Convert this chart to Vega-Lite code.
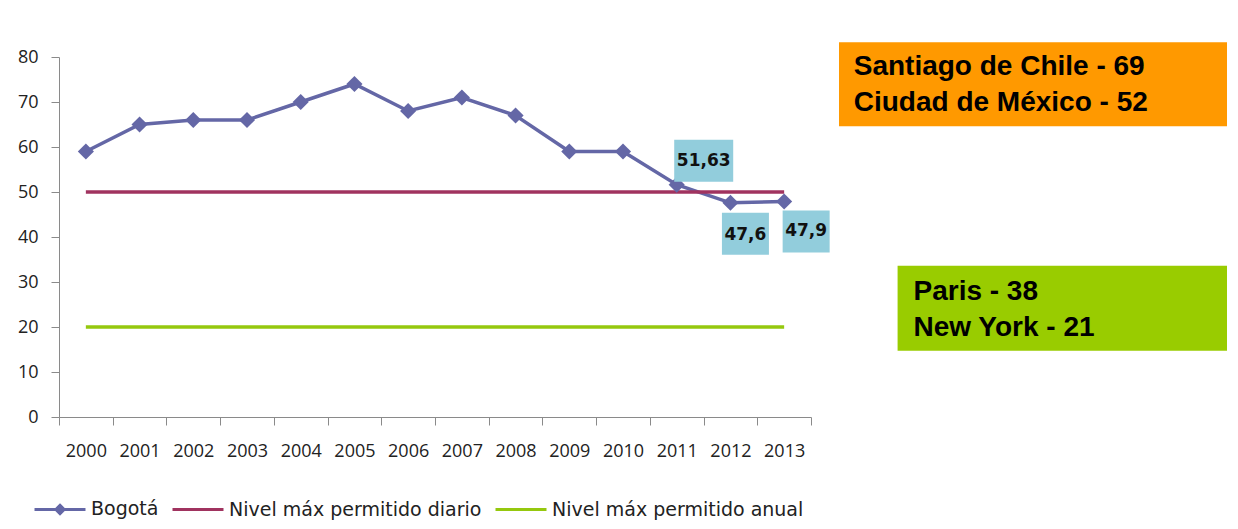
{
  "$schema": "https://vega.github.io/schema/vega-lite/v6.json",
  "background": "white",
  "padding": {"top": 42, "left": 17, "right": 0, "bottom": 0},
  "config": {
    "view": {"stroke": null},
    "font": "Open Sans"
  },
  "datasets": {
    "series": [
      {"year": "2000", "series": "Bogotá", "value": 59},
      {"year": "2001", "series": "Bogotá", "value": 65},
      {"year": "2002", "series": "Bogotá", "value": 66},
      {"year": "2003", "series": "Bogotá", "value": 66},
      {"year": "2004", "series": "Bogotá", "value": 70},
      {"year": "2005", "series": "Bogotá", "value": 74},
      {"year": "2006", "series": "Bogotá", "value": 68},
      {"year": "2007", "series": "Bogotá", "value": 71},
      {"year": "2008", "series": "Bogotá", "value": 67},
      {"year": "2009", "series": "Bogotá", "value": 59},
      {"year": "2010", "series": "Bogotá", "value": 59},
      {"year": "2011", "series": "Bogotá", "value": 51.63},
      {"year": "2012", "series": "Bogotá", "value": 47.6},
      {"year": "2013", "series": "Bogotá", "value": 47.9},
      {"year": "2000", "series": "Nivel máx permitido diario", "value": 50},
      {"year": "2001", "series": "Nivel máx permitido diario", "value": 50},
      {"year": "2002", "series": "Nivel máx permitido diario", "value": 50},
      {"year": "2003", "series": "Nivel máx permitido diario", "value": 50},
      {"year": "2004", "series": "Nivel máx permitido diario", "value": 50},
      {"year": "2005", "series": "Nivel máx permitido diario", "value": 50},
      {"year": "2006", "series": "Nivel máx permitido diario", "value": 50},
      {"year": "2007", "series": "Nivel máx permitido diario", "value": 50},
      {"year": "2008", "series": "Nivel máx permitido diario", "value": 50},
      {"year": "2009", "series": "Nivel máx permitido diario", "value": 50},
      {"year": "2010", "series": "Nivel máx permitido diario", "value": 50},
      {"year": "2011", "series": "Nivel máx permitido diario", "value": 50},
      {"year": "2012", "series": "Nivel máx permitido diario", "value": 50},
      {"year": "2013", "series": "Nivel máx permitido diario", "value": 50},
      {"year": "2000", "series": "Nivel máx permitido anual", "value": 20},
      {"year": "2001", "series": "Nivel máx permitido anual", "value": 20},
      {"year": "2002", "series": "Nivel máx permitido anual", "value": 20},
      {"year": "2003", "series": "Nivel máx permitido anual", "value": 20},
      {"year": "2004", "series": "Nivel máx permitido anual", "value": 20},
      {"year": "2005", "series": "Nivel máx permitido anual", "value": 20},
      {"year": "2006", "series": "Nivel máx permitido anual", "value": 20},
      {"year": "2007", "series": "Nivel máx permitido anual", "value": 20},
      {"year": "2008", "series": "Nivel máx permitido anual", "value": 20},
      {"year": "2009", "series": "Nivel máx permitido anual", "value": 20},
      {"year": "2010", "series": "Nivel máx permitido anual", "value": 20},
      {"year": "2011", "series": "Nivel máx permitido anual", "value": 20},
      {"year": "2012", "series": "Nivel máx permitido anual", "value": 20},
      {"year": "2013", "series": "Nivel máx permitido anual", "value": 20}
    ],
    "labels": [
      {"year": "2011", "value": 51.63, "label": "51,63"},
      {"year": "2012", "value": 47.6, "label": "47,6"},
      {"year": "2013", "value": 47.9, "label": "47,9"}
    ],
    "boxes": [
      {"box": "cities_high", "x0": 0, "x1": 100, "y0": 64.6, "y1": 83.3},
      {"box": "cities_low", "x0": 15.1, "x1": 100, "y0": 14.7, "y1": 33.6}
    ],
    "boxtext": [
      {"text": "Santiago de Chile - 69", "x": 3.8, "y": 75.9},
      {"text": "Ciudad de México - 52", "x": 3.8, "y": 68.0},
      {"text": "Paris - 38", "x": 19.2, "y": 25.9},
      {"text": "New York - 21", "x": 19.2, "y": 18.0}
    ]
  },
  "spacing": 9,
  "hconcat": [
    {
      "width": 752,
      "height": 360,
      "encoding": {
        "x": {
          "field": "year",
          "type": "ordinal",
          "scale": {"type": "band", "paddingInner": 0, "paddingOuter": 0},
          "axis": {
            "title": null,
            "labelAngle": 0,
            "tickBand": "extent",
            "tickSize": 8,
            "domainColor": "#8a8a8a",
            "tickColor": "#8a8a8a",
            "labelFont": "Open Sans",
            "labelFontSize": 18,
            "labelColor": "#222222",
            "labelPadding": 17
          }
        },
        "y": {
          "field": "value",
          "type": "quantitative",
          "scale": {"domain": [0, 80], "nice": false},
          "axis": {
            "title": null,
            "values": [0, 10, 20, 30, 40, 50, 60, 70, 80],
            "grid": false,
            "tickSize": 8,
            "domainColor": "#8a8a8a",
            "tickColor": "#8a8a8a",
            "labelFont": "Open Sans",
            "labelFontSize": 18,
            "labelColor": "#222222",
            "labelPadding": 13
          }
        }
      },
      "layer": [
        {
          "data": {"name": "series"},
          "mark": {"type": "line", "strokeWidth": 3.5},
          "encoding": {
            "color": {
              "field": "series",
              "type": "nominal",
              "scale": {
                "domain": ["Bogotá", "Nivel máx permitido diario", "Nivel máx permitido anual"],
                "range": ["#6467a6", "#a0335f", "#95c80e"]
              },
              "sort": ["Bogotá", "Nivel máx permitido diario", "Nivel máx permitido anual"],
              "legend": {
                "title": null,
                "orient": "none",
                "direction": "horizontal",
                "legendX": -26,
                "legendY": 425,
                "symbolType": "stroke",
                "symbolSize": 2600,
                "symbolStrokeWidth": 3,
                "labelFont": "DejaVu Sans",
                "labelFontSize": 19,
                "labelLimit": 0,
                "labelColor": "#222222",
                "labelOffset": 4,
                "columnPadding": 7,
                "encode": {
                  "symbols": {
                    "update": {
                      "shape": {"signal": "datum.value === 'Bogotá' ? 'M-1,0H1M0,-0.16L0.16,0L0,0.16L-0.16,0Z' : 'stroke'"},
                      "fill": {"signal": "datum.value === 'Bogotá' ? '#6467a6' : 'transparent'"}
                    }
                  }
                }
              }
            }
          }
        },
        {
          "data": {"name": "series"},
          "transform": [{"filter": "datum.series === 'Bogotá'"}],
          "mark": {"type": "point", "shape": "diamond", "size": 260, "filled": true, "opacity": 1, "color": "#6467a6"},
          "encoding": {}
        },
        {
          "data": {"name": "labels"},
          "transform": [{"filter": "datum.year === '2011'"}],
          "layer": [
            {
              "mark": {"type": "point", "shape": "M-1,-0.712H1V0.712H-1Z", "size": 3481, "filled": true, "opacity": 1, "color": "#92cddc", "xOffset": 27, "yOffset": -24},
              "encoding": {}
            },
            {
              "mark": {"type": "text", "font": "DejaVu Sans", "fontWeight": "bold", "fontSize": 17, "color": "#111111", "xOffset": 27, "yOffset": -24, "baseline": "middle", "align": "center"},
              "encoding": {"text": {"field": "label"}}
            }
          ]
        },
        {
          "data": {"name": "labels"},
          "transform": [{"filter": "datum.year === '2012'"}],
          "layer": [
            {
              "mark": {"type": "point", "shape": "M-1,-0.894H1V0.894H-1Z", "size": 2209, "filled": true, "opacity": 1, "color": "#92cddc", "xOffset": 15, "yOffset": 31},
              "encoding": {}
            },
            {
              "mark": {"type": "text", "font": "DejaVu Sans", "fontWeight": "bold", "fontSize": 17, "color": "#111111", "xOffset": 15, "yOffset": 32, "baseline": "middle", "align": "center"},
              "encoding": {"text": {"field": "label"}}
            }
          ]
        },
        {
          "data": {"name": "labels"},
          "transform": [{"filter": "datum.year === '2013'"}],
          "layer": [
            {
              "mark": {"type": "point", "shape": "M-1,-0.894H1V0.894H-1Z", "size": 2209, "filled": true, "opacity": 1, "color": "#92cddc", "xOffset": 22, "yOffset": 30},
              "encoding": {}
            },
            {
              "mark": {"type": "text", "font": "DejaVu Sans", "fontWeight": "bold", "fontSize": 17, "color": "#111111", "xOffset": 22, "yOffset": 30, "baseline": "middle", "align": "center"},
              "encoding": {"text": {"field": "label"}}
            }
          ]
        }
      ]
    },
    {
      "width": 388,
      "height": 360,
      "encoding": {
        "x": {"field": "x0", "type": "quantitative", "scale": {"domain": [0, 100], "nice": false}, "axis": null},
        "y": {"field": "y0", "type": "quantitative", "scale": {"domain": [0, 80], "nice": false}, "axis": null}
      },
      "layer": [
        {
          "data": {"name": "boxes"},
          "transform": [{"filter": "datum.box === 'cities_high'"}],
          "mark": {"type": "rect", "color": "#ff9900", "opacity": 1},
          "encoding": {"x2": {"field": "x1"}, "y2": {"field": "y1"}}
        },
        {
          "data": {"name": "boxes"},
          "transform": [{"filter": "datum.box === 'cities_low'"}],
          "mark": {"type": "rect", "color": "#99cc00", "opacity": 1},
          "encoding": {"x2": {"field": "x1"}, "y2": {"field": "y1"}}
        },
        {
          "data": {"name": "boxtext"},
          "mark": {"type": "text", "font": "Liberation Sans", "fontWeight": "bold", "fontSize": 28, "color": "#000000", "align": "left", "baseline": "alphabetic"},
          "encoding": {
            "x": {"field": "x", "type": "quantitative"},
            "y": {"field": "y", "type": "quantitative"},
            "text": {"field": "text"}
          }
        }
      ]
    }
  ]
}
